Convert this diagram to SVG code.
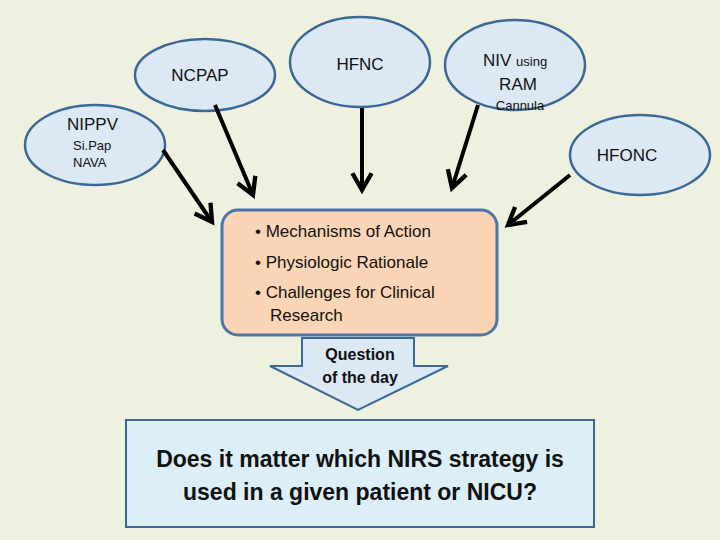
<svg xmlns="http://www.w3.org/2000/svg" width="720" height="540" viewBox="0 0 720 540">
<style>
.e{fill:#dce8f4;stroke:#3b6894;stroke-width:2.5}
.t{font-family:"Liberation Sans",Arial,sans-serif;fill:#111}
.c{stroke:#000;stroke-width:4;fill:none;marker-end:url(#ah)}
</style>
<defs>
<marker id="ah" viewBox="0 0 10 10" refX="8" refY="5" markerWidth="6" markerHeight="6" orient="auto" markerUnits="strokeWidth">
<path d="M1,1 L8,5 L1,9" fill="none" stroke="#000" stroke-width="1.8"/>
</marker>
</defs>
<rect width="720" height="540" fill="#eef1df"/>
<g id="ncpap"><ellipse class="e" cx="205" cy="75" rx="70" ry="36"/><text class="t" x="200" y="81" font-size="17" text-anchor="middle">NCPAP</text></g>
<g id="hfnc"><ellipse class="e" cx="360" cy="62" rx="70" ry="45"/><text class="t" x="360" y="70" font-size="17" text-anchor="middle">HFNC</text></g>
<g id="niv"><ellipse class="e" cx="515" cy="65" rx="70" ry="45"/><text class="t" x="483" y="66" font-size="17">NIV <tspan font-size="13">using</tspan></text><text class="t" x="518" y="90" font-size="17" text-anchor="middle">RAM</text><text class="t" x="520" y="110" font-size="13" text-anchor="middle">Cannula</text></g>
<g id="nippv"><ellipse class="e" cx="95" cy="145" rx="70" ry="40"/><text class="t" x="67" y="130" font-size="17">NIPPV</text><text class="t" x="73" y="150" font-size="13">Si.Pap</text><text class="t" x="73" y="167" font-size="13">NAVA</text></g>
<g id="hfonc"><ellipse class="e" cx="640" cy="155" rx="70" ry="40"/><text class="t" x="627" y="161" font-size="17" text-anchor="middle">HFONC</text></g>
<g id="center"><rect x="222" y="210" width="275" height="125" rx="16" fill="#fbd5b5" stroke="#4a76a8" stroke-width="3"/>
<text class="t" font-size="17"><tspan x="255" y="237">• Mechanisms of Action</tspan><tspan x="255" y="268">• Physiologic Rationale</tspan><tspan x="255" y="298">• Challenges for Clinical</tspan><tspan x="270" y="321">Research</tspan></text></g>
<g id="question"><path d="M302,338 H414 V366 H448 L358,410 L270,366 H302 Z" fill="#dce8f4" stroke="#3b6894" stroke-width="2"/>
<text class="t" font-size="16" font-weight="bold" text-anchor="middle"><tspan x="360" y="360">Question</tspan><tspan x="360" y="383">of the day</tspan></text></g>
<g id="bottom"><rect x="126" y="420" width="468" height="107" fill="#dceef6" stroke="#3b6894" stroke-width="2"/>
<text class="t" font-size="23" font-weight="bold" text-anchor="middle"><tspan x="360" y="467">Does it matter which NIRS strategy is</tspan><tspan x="360" y="500">used in a given patient or NICU?</tspan></text></g>
<g id="connectors">
<line class="c" x1="163" y1="150" x2="212" y2="222"/>
<line class="c" x1="215" y1="105" x2="253" y2="195"/>
<line class="c" x1="362" y1="108" x2="362" y2="190"/>
<line class="c" x1="478" y1="105" x2="452" y2="188"/>
<line class="c" x1="570" y1="175" x2="508" y2="225"/>
</g>
</svg>
